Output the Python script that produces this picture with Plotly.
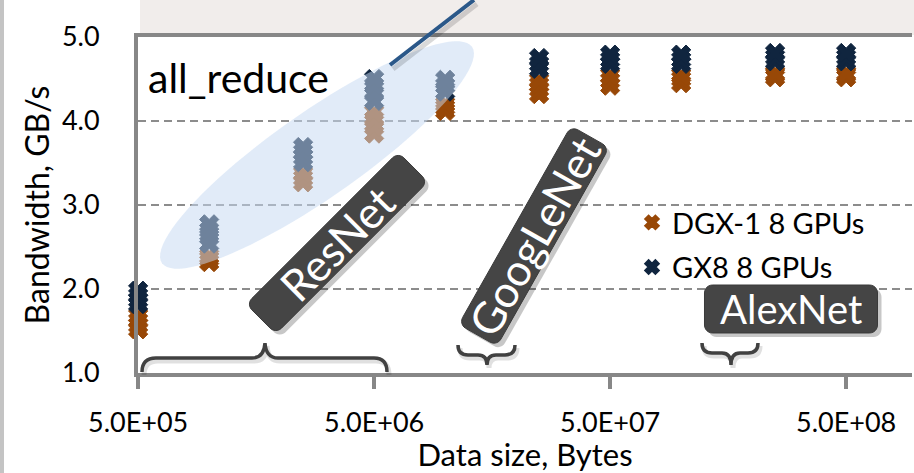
import numpy as np
import plotly.graph_objects as go

# ---------------- data ----------------
sizes = [5e5, 1e6, 2.5e6, 5e6, 1e7, 2.5e7, 5e7, 1e8, 2.5e8, 5e8]
dgx_runs = [
    [1.52, 1.57, 1.62, 1.68],
    [2.32, 2.36, 2.39],
    [3.27, 3.32, 3.37],
    [3.85, 3.93, 4.02, 4.10],
    [4.12, 4.16, 4.20],
    [4.32, 4.38, 4.43, 4.48],
    [4.42, 4.48, 4.54],
    [4.45, 4.50, 4.54],
    [4.52, 4.55, 4.57],
    [4.52, 4.55, 4.57],
]
gx8_runs = [
    [1.82, 1.87, 1.92, 1.98],
    [2.54, 2.62, 2.70, 2.77],
    [3.51, 3.57, 3.63, 3.69],
    [4.24, 4.33, 4.42, 4.50],
    [4.35, 4.42, 4.49],
    [4.62, 4.68, 4.75],
    [4.68, 4.73, 4.79],
    [4.68, 4.73, 4.79],
    [4.71, 4.76, 4.81],
    [4.71, 4.76, 4.81],
]
series_names = ["DGX-1 8 GPUs", "GX8 8 GPUs"]
x_tick_vals = [5e5, 5e6, 5e7, 5e8]
x_tick_text = ["5.0E+05", "5.0E+06", "5.0E+07", "5.0E+08"]
y_tick_vals = [1, 2, 3, 4, 5]
model_labels = ["ResNet", "GoogLeNet", "AlexNet"]

ORANGE = "#984807"
NAVY = "#10253F"
FONT = "Lato"

# ---------------- geometry ----------------
FW, FH = 914, 473
L, R, T, B = 138, 2, 37, 100
W, H = FW - L - R, FH - T - B
DECADE_PX = 236.0
x_lo = np.log10(5e5) - 0.0006
x_hi = x_lo + W / DECADE_PX


def pp(x, y):
    return (x - L) / W, (T + H - y) / H


def path_pts(pts, close=True):
    s = ""
    for i, (x, y) in enumerate(pts):
        px, py = pp(x, y)
        s += ("M" if i == 0 else "L") + f"{px:.5f},{py:.5f} "
    return s + ("Z" if close else "")


def rot(cx, cy, th, u, v):
    c, s = np.cos(np.radians(th)), np.sin(np.radians(th))
    return cx + u * c + v * s, cy - u * s + v * c


def ellipse(cx, cy, a, b, th, n=90):
    t = np.linspace(0, 2 * np.pi, n, endpoint=False)
    return [rot(cx, cy, th, a * np.cos(k), b * np.sin(k)) for k in t]


def rrect(cx, cy, length, thick, th, r=8):
    hl, ht = length / 2, thick / 2
    pts = []
    for (sx, sy, a0) in [(1, 1, 0), (-1, 1, 90), (-1, -1, 180), (1, -1, 270)]:
        cu, cv = sx * (hl - r), sy * (ht - r)
        for a in np.linspace(a0, a0 + 90, 7):
            pts.append(rot(cx, cy, th, cu + r * np.cos(np.radians(a)), cv + r * np.sin(np.radians(a))))
    return pts


def brace_path(segs):
    s = ""
    for seg in segs:
        if seg[0] in ("M", "L"):
            x, y = pp(*seg[1])
            s += f"{seg[0]}{x:.5f},{y:.5f} "
        else:
            c = pp(*seg[1]); e = pp(*seg[2])
            s += f"Q{c[0]:.5f},{c[1]:.5f} {e[0]:.5f},{e[1]:.5f} "
    return s


def flatten(xs, runs):
    ox, oy = [], []
    for s, r in zip(xs, runs):
        for v in r:
            ox.append(s); oy.append(v)
    return ox, oy


fig = go.Figure()
for name, runs, col, grp in [(series_names[0], dgx_runs, ORANGE, "a"),
                             (series_names[1], gx8_runs, NAVY, "b")]:
    xx, yy = flatten(sizes, runs)
    fig.add_trace(go.Scatter(x=xx, y=yy, mode="markers", name=name, legendgroup=grp, cliponaxis=False,
                             marker=dict(symbol="x", size=17, color=col, line=dict(width=1, color=col))))

shapes = []
bx0, by0 = pp(140, 35)
bx1, by1 = pp(914, 0)
shapes.append(dict(type="rect", xref="paper", yref="paper", x0=bx0, y0=by0, x1=bx1, y1=by1,
                   fillcolor="#F1EDEB", line=dict(width=0), layer="below"))
lx0, ly0 = pp(0, 473)
lx1, ly1 = pp(4, 0)
shapes.append(dict(type="rect", xref="paper", yref="paper", x0=lx0, y0=ly0, x1=lx1, y1=ly1,
                   fillcolor="#C4C4C4", line=dict(width=0), layer="below"))

shapes.append(dict(type="path", xref="paper", yref="paper",
                   path=path_pts(ellipse(317, 155, 189, 43, 34.9)),
                   fillcolor="rgba(198,217,241,0.52)", line=dict(width=0), layer="above"))
shapes.append(dict(type="path", xref="paper", yref="paper",
                   path=path_pts([(393, 69), (477, 4)], close=False),
                   line=dict(color="rgba(0,0,0,0.15)", width=5), layer="above"))
shapes.append(dict(type="path", xref="paper", yref="paper",
                   path=path_pts([(390, 65), (474, 0)], close=False),
                   line=dict(color="#2B5889", width=4), layer="above"))

boxes = [
    (model_labels[0], 337, 243, 215, 42, 45.0, 44),
    (model_labels[1], 534, 236, 228, 44, 60.5, 44),
    (model_labels[2], 791, 309, 173, 48, 0.0, 40),
]
for _, cx, cy, ln, th_, ang, _f in boxes:
    shapes.append(dict(type="path", xref="paper", yref="paper",
                       path=path_pts(rrect(cx + 4, cy + 4, ln, th_, ang)),
                       fillcolor="rgba(0,0,0,0.22)", line=dict(width=0), layer="above"))
    shapes.append(dict(type="path", xref="paper", yref="paper",
                       path=path_pts(rrect(cx, cy, ln, th_, ang)),
                       fillcolor="#454545", line=dict(color="#3A3A3A", width=1), layer="above"))

braces = [
    [("M", (142, 372)), ("Q", (142, 358), (156, 358)), ("L", (252, 358)),
     ("Q", (264, 358), (265, 343)), ("Q", (266, 358), (278, 358)), ("L", (374, 358)),
     ("Q", (387, 358), (387, 372))],
    [("M", (458, 345)), ("Q", (458, 355), (468, 355)), ("L", (478, 355)),
     ("Q", (487, 355), (487, 365)), ("Q", (487, 355), (496, 355)), ("L", (505, 355)),
     ("Q", (515, 355), (515, 345))],
    [("M", (702, 343)), ("Q", (702, 353), (712, 353)), ("L", (722, 353)),
     ("Q", (731, 353), (731, 365)), ("Q", (731, 353), (740, 353)), ("L", (748, 353)),
     ("Q", (758, 353), (758, 343))],
]
for br in braces:
    sh = [(s[0],) + tuple((p[0] + 2, p[1] + 3) for p in s[1:]) for s in br]
    shapes.append(dict(type="path", xref="paper", yref="paper", path=brace_path(sh),
                       line=dict(color="rgba(0,0,0,0.12)", width=5), layer="above"))
    shapes.append(dict(type="path", xref="paper", yref="paper", path=brace_path(br),
                       line=dict(color="#414141", width=3.5), layer="above"))

annotations = []
for txt, cx, cy, ln, th_, ang, fs in boxes:
    ax, ay = pp(cx, cy)
    annotations.append(dict(text=txt, x=ax, y=ay, xref="paper", yref="paper", showarrow=False,
                            xanchor="center", yanchor="middle", textangle=-ang,
                            font=dict(family=FONT, size=fs, color="white")))
ax_, ay_ = pp(146, 77)
annotations.append(dict(text="all_reduce", x=ax_, y=ay_, xref="paper", yref="paper", showarrow=False,
                        xanchor="left", yanchor="middle", font=dict(family=FONT, size=41, color="black")))

leg_x, leg_y = pp(632, 197)
fig.update_layout(
    width=FW, height=FH,
    margin=dict(l=L, r=R, t=T, b=B, pad=0, autoexpand=False),
    paper_bgcolor="white", plot_bgcolor="white",
    font=dict(family=FONT, color="black"),
    shapes=shapes, annotations=annotations,
    legend=dict(x=leg_x, y=leg_y, xanchor="left", yanchor="top", bgcolor="rgba(0,0,0,0)",
                font=dict(family=FONT, size=29, color="black"), traceorder="grouped",
                tracegroupgap=4, itemsizing="constant"),
    xaxis=dict(type="log", range=[x_lo, x_hi], tickvals=x_tick_vals, ticktext=x_tick_text,
               ticks="outside", ticklen=12, tickwidth=4, tickcolor="#878787",
               showline=True, linewidth=4, linecolor="#878787", mirror=True,
               showgrid=False, zeroline=False, ticklabelstandoff=11, automargin=False,
               tickfont=dict(family=FONT, size=27, color="black"),
               title=dict(text="Data size, Bytes", font=dict(family=FONT, size=31, color="black"), standoff=4)),
    yaxis=dict(range=[1, 5], tickvals=y_tick_vals, tickformat=".1f", ticks="",
               showline=True, linewidth=4, linecolor="#878787", mirror=False,
               showgrid=True, gridcolor="#8C8C8C", gridwidth=2, griddash="8px,5px",
               zeroline=False, ticklabelstandoff=29, automargin=False,
               tickfont=dict(family=FONT, size=27, color="black"),
               title=dict(text="Bandwidth, GB/s", font=dict(family=FONT, size=32, color="black"), standoff=4)),
)

fig.write_html("out.html", config={"displayModeBar": False},
               post_script="document.body.style.margin='0px';document.body.style.overflow='hidden';")
